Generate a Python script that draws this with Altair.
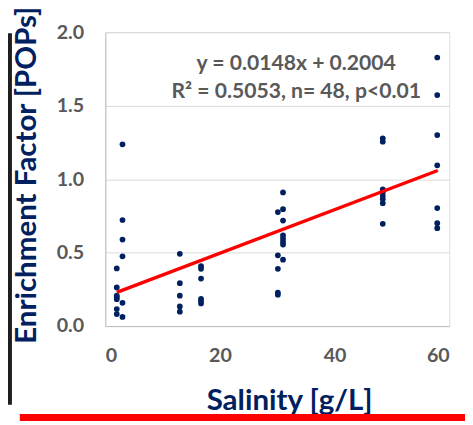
import altair as alt
import pandas as pd

# salinity groups and enrichment factors
sal = ([2.0] * 7 + [3.0] * 6 + [13.0] * 5 + [16.7] * 6 + [30.1] * 5 + [31.0] * 8
       + [48.4] * 8 + [57.9] * 7)
ef = [0.392, 0.263, 0.207, 0.196, 0.183, 0.116, 0.082,
      1.237, 0.722, 0.589, 0.475, 0.158, 0.062,
      0.492, 0.292, 0.207, 0.134, 0.098,
      0.408, 0.390, 0.323, 0.185, 0.171, 0.154,
      0.776, 0.482, 0.390, 0.227, 0.214,
      0.910, 0.796, 0.718, 0.617, 0.595, 0.573, 0.555, 0.452,
      1.278, 1.255, 0.930, 0.910, 0.885, 0.863, 0.836, 0.696,
      1.828, 1.572, 1.300, 1.094, 0.803, 0.700, 0.666]

slope = 0.0148
intercept = 0.2004
fit_x = [2.0, 58.0]
fit_y = [intercept + slope * v for v in fit_x]

ann_lines = ["y = 0.0148x + 0.2004", "R² = 0.5053, n= 48, p<0.01"]
ann_x = [33.3, 33.3]
ann_y = [1.783, 1.594]

x_ticks = [0, 20, 40, 60]
y_ticks = [0.0, 0.5, 1.0, 1.5, 2.0]

pts = pd.DataFrame({"sal": sal, "ef": ef})
fit = pd.DataFrame({"sal": fit_x, "ef": fit_y})
ann = pd.DataFrame({"t": ann_lines, "x": ann_x, "y": ann_y})

NAVY = "#002060"
GREY = "#595959"
FONT = "Lato"

xs = alt.Scale(domain=[0, 60], nice=False)
ys = alt.Scale(domain=[0, 2], nice=False)

xax = alt.Axis(values=x_ticks, grid=False, ticks=False, domainColor="#BFBFBF",
               labelColor=GREY, labelFont=FONT, labelFontWeight="bold",
               labelFontSize=20, labelPadding=20,
               title="Salinity [g/L]", titleColor=NAVY, titleFont=FONT,
               titleFontWeight="bold", titleFontSize=30,
               titleX=187, titleY=76, titleAnchor="start", titleAlign="center",
               titleBaseline="middle")
yax = alt.Axis(values=y_ticks, format=".1f", grid=True, gridColor="#D9D9D9",
               ticks=False, domainColor="#BFBFBF",
               labelColor=GREY, labelFont=FONT, labelFontWeight="bold",
               labelFontSize=20, labelPadding=22,
               title="Enrichment Factor [POPs]", titleColor=NAVY, titleFont=FONT,
               titleFontWeight="bold", titleFontSize=30,
               titleX=-80, titleY=145, titleAlign="center", titleBaseline="middle",
               titleAngle=270)

points = alt.Chart(pts).mark_circle(size=34, color=NAVY, opacity=1).encode(
    x=alt.X("sal:Q", scale=xs, axis=xax),
    y=alt.Y("ef:Q", scale=ys, axis=yax),
)

line = alt.Chart(fit).mark_line(color="#FF0000", strokeWidth=3.5).encode(
    x=alt.X("sal:Q", scale=xs), y=alt.Y("ef:Q", scale=ys)
)

text = alt.Chart(ann).mark_text(font=FONT, fontWeight="bold", fontSize=21.5,
                                color=GREY, align="center", baseline="middle").encode(
    x=alt.X("x:Q", scale=xs), y=alt.Y("y:Q", scale=ys), text="t:N"
)

redbar = alt.Chart(pd.DataFrame({"a": [0]})).mark_rule(
    color="#FF0000", strokeWidth=7).encode(
    x=alt.value(-87), x2=alt.value(366), y=alt.value(392))

strip = alt.Chart(pd.DataFrame({"a": [0]})).mark_rect(color="#1e1e1e").encode(
    x=alt.value(-99), x2=alt.value(-95), y=alt.value(1), y2=alt.value(379))

chart = alt.layer(strip, points, line, text, redbar).properties(
    width=350, height=299,
    autosize=alt.AutoSizeParams(type="none"),
    padding={"left": 99, "top": 21, "right": 16, "bottom": 97},
).configure_view(stroke=None).configure(background="white")

chart.save("out.html", embed_options={"renderer": "svg", "actions": False})
